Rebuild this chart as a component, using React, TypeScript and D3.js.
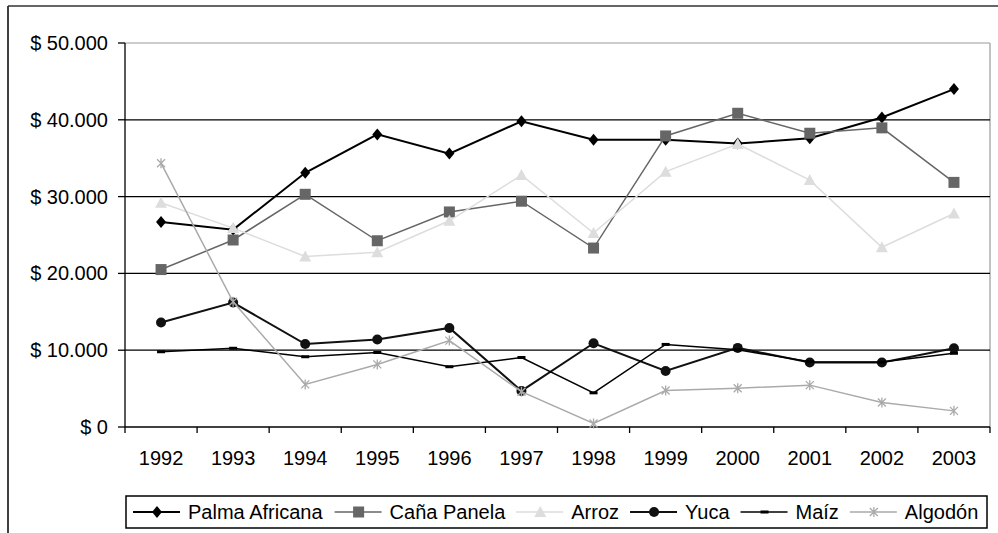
import { scaleBand, scaleLinear, line } from "d3";

const years = ["1992", "1993", "1994", "1995", "1996", "1997", "1998", "1999", "2000", "2001", "2002", "2003"];
const yTicks = [0, 10000, 20000, 30000, 40000, 50000];

const palmaAfricana = [26700, 25700, 33100, 38100, 35600, 39800, 37400, 37400, 36900, 37600, 40300, 44000];
const canaPanela = [20500, 24350, 30300, 24250, 28000, 29400, 23300, 37900, 40850, 38250, 38950, 31850];
const arroz = [29200, 25900, 22200, 22750, 26850, 32800, 25250, 33250, 36850, 32150, 23400, 27800];
const yuca = [13600, 16200, 10800, 11400, 12900, 4700, 10900, 7300, 10300, 8400, 8400, 10250];
const maiz = [9800, 10250, 9150, 9700, 7850, 9050, 4450, 10750, 10050, 8500, 8450, 9600];
const algodon = [34350, 16300, 5550, 8150, 11250, 4600, 450, 4750, 5050, 5450, 3200, 2100];

type Marker = "diamond" | "square" | "triangle" | "circle" | "dash" | "star";
type Series = { name: string; values: number[]; color: string; width: number; marker: Marker };

const series: Series[] = [
  { name: "Palma Africana", values: palmaAfricana, color: "#000000", width: 2, marker: "diamond" },
  { name: "Caña Panela", values: canaPanela, color: "#666666", width: 1.5, marker: "square" },
  { name: "Arroz", values: arroz, color: "#dddddd", width: 1.5, marker: "triangle" },
  { name: "Yuca", values: yuca, color: "#111111", width: 2, marker: "circle" },
  { name: "Maíz", values: maiz, color: "#000000", width: 1.5, marker: "dash" },
  { name: "Algodón", values: algodon, color: "#aaaaaa", width: 1.5, marker: "star" }
];

const font = "'Liberation Sans', Arial, sans-serif";
const plotLeft = 125;
const plotRight = 990;
const plotTop = 43;
const plotBottom = 427;

function formatMoney(v: number) {
  if (v === 0) return "$ 0";
  const s = String(v);
  return "$ " + s.slice(0, s.length - 3) + "." + s.slice(-3);
}

function measure(text: string) {
  const c = document.createElement("canvas").getContext("2d");
  if (!c) return text.length * 10;
  c.font = "20px 'Liberation Sans', Arial, sans-serif";
  return c.measureText(text).width;
}

function MarkerShape({ kind, x, y, color }: { kind: Marker; x: number; y: number; color: string }) {
  switch (kind) {
    case "diamond":
      return <path d={`M${x},${y - 6}L${x + 5},${y}L${x},${y + 6}L${x - 5},${y}Z`} fill={color} />;
    case "square":
      return <rect x={x - 5.5} y={y - 5.5} width={11} height={11} fill={color} />;
    case "triangle":
      return <path d={`M${x},${y - 6}L${x + 6},${y + 5}L${x - 6},${y + 5}Z`} fill={color} />;
    case "circle":
      return <circle cx={x} cy={y} r={5} fill={color} />;
    case "dash":
      return <rect x={x - 4} y={y - 1.5} width={8} height={3} fill={color} />;
    case "star":
      return (
        <path
          d={`M${x - 4},${y - 4}L${x + 4},${y + 4}M${x - 4},${y + 4}L${x + 4},${y - 4}M${x},${y - 5}L${x},${y + 5}`}
          stroke={color}
          strokeWidth={1.3}
          fill="none"
        />
      );
  }
}

export default function App() {
  const x = scaleBand<string>().domain(years).range([plotLeft, plotRight]);
  const y = scaleLinear().domain([0, 50000]).range([plotBottom, plotTop]);
  const cx = (i: number) => (x(years[i]) ?? 0) + x.bandwidth() / 2;
  const path = line<number>().x((_, i) => cx(i)).y((d) => y(d));

  const legendY = 512;
  let lx = 133;
  const legendItems = series.map((s) => {
    const item = { s, x: lx };
    lx += 47 + 8 + measure(s.name) + 11;
    return item;
  });

  const bandEdges = years.map((yr) => x(yr) ?? 0).concat([plotRight]);

  return (
    <svg width={998} height={533} style={{ position: "absolute", left: 0, top: 0, background: "#fff" }}>
      <rect x={0} y={0} width={998} height={533} fill="#fff" />
      <line x1={8} x2={8} y1={6} y2={533} stroke="#000" strokeWidth={1.5} />
      <line x1={8} x2={998} y1={6} y2={6} stroke="#333" strokeWidth={1.5} />

      <line x1={plotLeft} x2={plotRight} y1={plotTop} y2={plotTop} stroke="#999" strokeWidth={1.2} />
      <line x1={plotRight} x2={plotRight} y1={plotTop} y2={plotBottom} stroke="#999" strokeWidth={1.2} />
      {yTicks.slice(1, -1).map((t) => (
        <line key={t} x1={plotLeft} x2={plotRight} y1={y(t)} y2={y(t)} stroke="#000" strokeWidth={1.3} />
      ))}
      <line x1={plotLeft} x2={plotLeft} y1={plotTop} y2={plotBottom} stroke="#000" strokeWidth={1.3} />
      <line x1={plotLeft} x2={plotRight} y1={plotBottom} y2={plotBottom} stroke="#000" strokeWidth={1.3} />
      {yTicks.map((t) => (
        <g key={t}>
          <line x1={plotLeft - 7} x2={plotLeft} y1={y(t)} y2={y(t)} stroke="#000" strokeWidth={1.3} />
          <text
            x={108}
            y={y(t)}
            textAnchor="end"
            dominantBaseline="central"
            fontFamily={font}
            fontSize={20}
            fill="#000"
          >
            {formatMoney(t)}
          </text>
        </g>
      ))}
      {bandEdges.map((e, i) => (
        <line key={i} x1={e} x2={e} y1={plotBottom} y2={plotBottom + 6} stroke="#000" strokeWidth={1.3} />
      ))}
      {years.map((yr, i) => (
        <text key={yr} x={cx(i)} y={465} textAnchor="middle" fontFamily={font} fontSize={20} fill="#000">
          {yr}
        </text>
      ))}

      {series.map((s) => (
        <g key={s.name}>
          <path d={path(s.values) ?? ""} fill="none" stroke={s.color} strokeWidth={s.width} />
          {s.values.map((v, i) => (
            <MarkerShape key={i} kind={s.marker} x={cx(i)} y={y(v)} color={s.color} />
          ))}
        </g>
      ))}

      <rect x={126} y={496} width={861} height={32} fill="#fff" stroke="#000" strokeWidth={1.5} />
      {legendItems.map(({ s, x: ix }) => (
        <g key={s.name}>
          <line x1={ix} x2={ix + 47} y1={legendY} y2={legendY} stroke={s.color} strokeWidth={s.width} />
          <MarkerShape kind={s.marker} x={ix + 24} y={legendY} color={s.color} />
          <text x={ix + 55} y={legendY} dominantBaseline="central" fontFamily={font} fontSize={20} fill="#000">
            {s.name}
          </text>
        </g>
      ))}
    </svg>
  );
}
